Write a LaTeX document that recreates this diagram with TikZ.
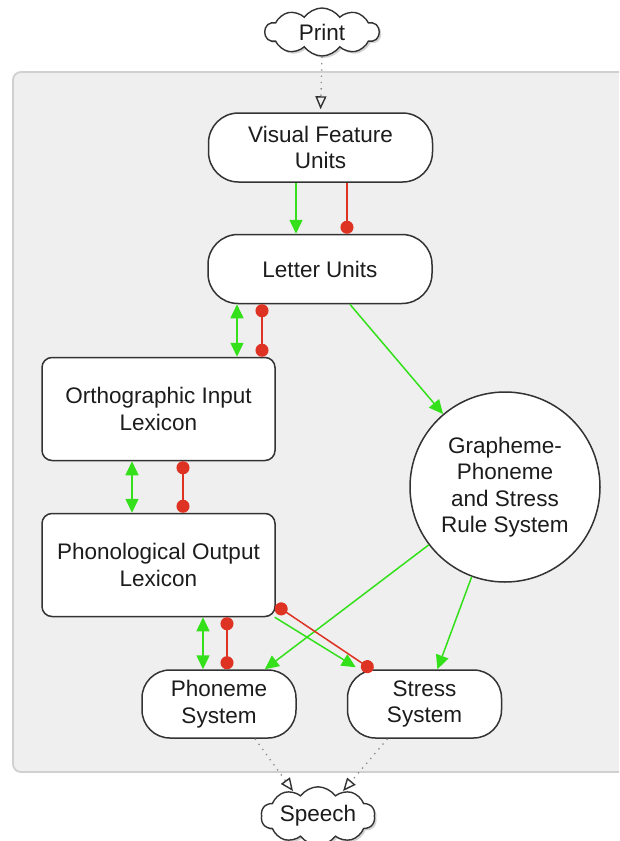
\documentclass[tikz,border=0pt]{standalone}
\usepackage{fontspec}
\setmainfont{Liberation Sans}
\usetikzlibrary{arrows.meta,shapes.symbols,shadows,calc}

\definecolor{panelfill}{HTML}{EFEFEF}
\definecolor{panelline}{HTML}{D0D0D0}
\definecolor{excite}{HTML}{33E01A}
\definecolor{inhibit}{HTML}{DE3222}
\definecolor{edge}{HTML}{333333}
\definecolor{ink}{HTML}{1C1C1C}
\definecolor{dots}{HTML}{8A8A8A}

\begin{document}
\begin{tikzpicture}[x=1pt,y=-1pt,
  every node/.style={font=\fontsize{22.5}{26.5}\selectfont, text=ink, align=center, inner sep=0pt},
  unit/.style={draw=edge, line width=1.5pt, fill=white, rounded corners=30pt,
    minimum width=224pt, minimum height=69pt},
  lexicon/.style={draw=edge, line width=1.5pt, fill=white, rounded corners=10pt,
    minimum width=233pt, minimum height=103pt},
  sysbox/.style={draw=edge, line width=1.5pt, fill=white, rounded corners=28pt,
    minimum width=154pt, minimum height=68pt},
  rulecircle/.style={circle, draw=edge, line width=1.5pt, fill=white, minimum size=190pt},
  ext/.style={cloud, cloud puffs=10, cloud puff arc=110, aspect=2.5, draw=edge,
    line width=1.4pt, fill=white, minimum width=114pt, minimum height=48pt,
    drop shadow={opacity=0.35, shadow xshift=2pt, shadow yshift=-2pt}},
  exc/.style={draw=excite, line width=1.5pt, -{Triangle[length=14pt,width=13pt]}},
  excboth/.style={draw=excite, line width=1.5pt,
    {Triangle[length=14pt,width=13pt]}-{Triangle[length=14pt,width=13pt]}},
  inh/.style={draw=inhibit, line width=1.5pt, {Circle[length=13pt]}-{Circle[length=13pt]}},
  inhend/.style={draw=inhibit, line width=1.5pt, -{Circle[length=13pt]}},
  flow/.style={draw=dots, line width=1.3pt, dash pattern=on 1.3pt off 5pt,
    -{Triangle[open, length=13pt, width=11pt, line width=1.4pt, color=edge]}}
]
\useasboundingbox (0,0) rectangle (619,841);
\clip (0,0) rectangle (619,841);

% shaded panel holding the internal modules
\draw[panelline, line width=1.8pt, fill=panelfill, rounded corners=8pt]
  (13,72) rectangle (660,772);

% modules
\node[unit]    (visual)  at (320.5,147.5) {Visual Feature\\Units};
\node[unit]    (letter)  at (320,269)     {Letter Units};
\node[lexicon] (ortho)   at (158.5,409)   {Orthographic Input\\Lexicon};
\node[lexicon] (phono)   at (158.5,565)   {Phonological Output\\Lexicon};
\node[rulecircle] (gpr)  at (505,487)     {Grapheme-\\Phoneme\\and Stress\\Rule System};
\node[sysbox]  (phoneme) at (219,704)     {Phoneme\\System};
\node[sysbox]  (stress)  at (424.5,704)   {Stress\\System};

% input and output
\node[ext] (print)  at (322,32)  {Print};
\node[ext] (speech) at (318,816) {Speech};

% connector columns
\coordinate (c1) at (296,0);
\coordinate (c2) at (347,0);
\coordinate (c3) at (237,0);
\coordinate (c4) at (262,0);
\coordinate (c5) at (132,0);
\coordinate (c6) at (183,0);
\coordinate (c7) at (203,0);
\coordinate (c8) at (227,0);

% print enters, speech leaves
\draw[flow, shorten >=3pt] (print.south) -- (visual.north);
\draw[flow] ($(phoneme.south)+(36,0)$) -- ($(speech.north)+(-25,5)$);
\draw[flow] ($(stress.south)+(-37,0)$) -- ($(speech.north)+(25,5)$);

% excitatory and inhibitory links
\draw[exc]    (visual.south -| c1) -- (letter.north -| c1);
\draw[inhend] (visual.south -| c2) -- (letter.north -| c2);

\draw[excboth] (letter.south -| c3) -- (ortho.north -| c3);
\draw[inh]     (letter.south -| c4) -- (ortho.north -| c4);

\draw[excboth] (ortho.south -| c5) -- (phono.north -| c5);
\draw[inh]     (ortho.south -| c6) -- (phono.north -| c6);

\draw[excboth] (phono.south -| c7) -- (phoneme.north -| c7);
\draw[inh]     (phono.south -| c8) -- (phoneme.north -| c8);

% the rule route
\draw[exc] (letter) -- (gpr);
\draw[exc] (gpr) -- (phoneme);
\draw[exc] (gpr) -- (stress);

\draw[exc] ($(phono.south east)+(-1,0)$) -- ($(stress.north west)+(9,-2)$);
\draw[inh] ($(phono.south east)+(0,-12)$) -- ($(stress.north west)+(26,1)$);
\end{tikzpicture}
\end{document}
